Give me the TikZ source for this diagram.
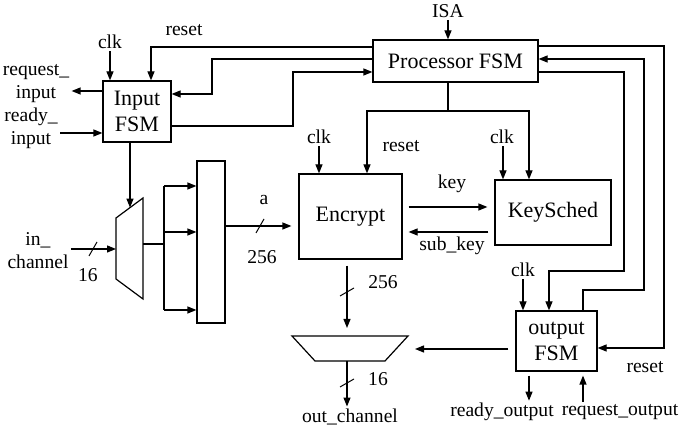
\documentclass[tikz,border=0pt]{standalone}
\usepackage{fontspec}
\setmainfont{Liberation Serif}
\usetikzlibrary{positioning,arrows.meta,calc}
\tikzset{
  bloque/.style={rectangle, draw, line width=0.6pt, inner sep=0pt,
    align=center, font=\fontsize{11}{13}\selectfont},
  etiqueta/.style={inner sep=1pt, align=center, font=\fontsize{9.8}{11.5}\selectfont},
  flechaSen/.style={-{Triangle[length=4.5pt,width=3.5pt]}, line width=0.6pt},
  cable/.style={-, line width=0.6pt},
  marcaBus/.style={-, line width=0.5pt},
}
\begin{document}
\begin{tikzpicture}[x=0.5pt, y=-0.5pt]
    \useasboundingbox (0,0) rectangle (682,431);
    \node[bloque, minimum width=82.5pt, minimum height=21pt] (proc) at (455.5,61) {Processor FSM};
    \node[bloque, minimum width=34pt, minimum height=30.5pt] (inf) at (137,111.5) {Input\\FSM};
    \node[bloque, minimum width=51.5pt, minimum height=42.5pt] (enc) at (350.5,216.5) {Encrypt};
    \node[bloque, minimum width=58pt, minimum height=32.5pt] (ks) at (553,212.5) {KeySched};
    \node[bloque, minimum width=40.5pt, minimum height=30pt] (outf) at (556.5,341) {output\\FSM};
    \node[bloque, minimum width=14pt, minimum height=81pt] (reg) at (211,242) {};
    \draw[cable] (116,218) -- (143,198) -- (143,299) -- (116,279) -- cycle;
    \coordinate (dmIn) at (116,249);
    \coordinate (dmSel) at (130,207.6);
    \coordinate (dmOut) at (143,244);
    \draw[cable] (292,336) -- (408,336) -- (385,361) -- (315,361) -- cycle;
    \coordinate (mxIn) at (347,336);
    \coordinate (mxSel) at (396,349);
    \coordinate (mxOut) at (347,361);
    \node[etiqueta] (isa) at (448,11) {ISA};
    \node[etiqueta] (clkIn) at (110,42) {clk};
    \node[etiqueta] (rstIn) at (184,30) {reset};
    \node[etiqueta] (reqIn) at (36,84) {request\_\\input};
    \node[etiqueta] (rdyIn) at (31,128) {ready\_\\input};
    \node[etiqueta] (inCh) at (38,251) {in\_\\channel};
    \node[etiqueta] (w16a) at (88,275) {16};
    \node[etiqueta] (la) at (264,200) {a};
    \node[etiqueta] (w256a) at (262,257) {256};
    \node[etiqueta] (clkEnc) at (319,137) {clk};
    \node[etiqueta] (rstEnc) at (401,146) {reset};
    \node[etiqueta] (clkKs) at (502,137) {clk};
    \node[etiqueta] (lkey) at (452,184) {key};
    \node[etiqueta] (lsub) at (452,246) {sub\_key};
    \node[etiqueta] (w256b) at (383,282) {256};
    \node[etiqueta] (w16b) at (378,379) {16};
    \node[etiqueta] (outCh) at (350,417) {out\_channel};
    \node[etiqueta] (clkOut) at (523,270) {clk};
    \node[etiqueta] (rstOut) at (645,367) {reset};
    \node[etiqueta] (rdyOut) at (502,412) {ready\_output};
    \node[etiqueta] (reqOut) at (620,412) {request\_output};
    \draw[flechaSen] (isa.south) -- (isa.south |- proc.north);
    \draw[flechaSen] (proc.west |- 0,47) -| (151,0 |- inf.north);
    \draw[flechaSen] (proc.west |- 0,59) -| (212,94) -- (inf.east |- 0,94);
    \draw[flechaSen] (inf.east |- 0,126) -| (293,72) -- (proc.west |- 0,72);
    \draw[flechaSen] (clkIn) -- (clkIn |- inf.north);
    \draw[flechaSen] (inf.west |- 0,91) -- (reqIn.east |- 0,91);
    \draw[flechaSen] (rdyIn.east |- 0,133) -- (inf.west |- 0,133);
    \draw[flechaSen] (inf.south -| dmSel) -- (dmSel);
    \draw[flechaSen] (inCh.east |- dmIn) -- (dmIn);
    \draw[marcaBus] (93,249) ++(-4,7) -- ++(8,-14);
    \draw[cable] (dmOut) -- (164,244);
    \draw[cable] (164,186) -- (164,310);
    \foreach \y in {186,232,310}{\draw[flechaSen] (164,\y) -- (reg.west |- 0,\y);}
    \draw[flechaSen, shorten >=3.5pt] (reg.east |- 0,226) -- (enc.west |- 0,226);
    \draw[marcaBus] (260,226) ++(-4,7) -- ++(8,-14);
    \draw[flechaSen] (clkEnc) -- (clkEnc |- enc.north);
    \draw[cable] (proc.south -| 448,0) -- (448,111) coordinate (rstSplit);
    \draw[flechaSen] (rstSplit) -| (enc.north -| 367,0);
    \draw[flechaSen] (rstSplit) -| (ks.north -| 529,0);
    \draw[flechaSen] (clkKs.south -| 503,0) -- (ks.north -| 503,0);
    \draw[flechaSen, shorten <=3pt, shorten >=3.5pt] (enc.east |- 0,207) -- (ks.west |- 0,207);
    \draw[flechaSen, shorten <=3pt, shorten >=3pt] (ks.west |- 0,232) -- (enc.east |- 0,232);
    \draw[flechaSen, shorten <=3pt, shorten >=4pt] (enc.south -| mxIn) -- (mxIn);
    \draw[marcaBus] (347,292) ++(-7,4) -- ++(14,-8);
    \draw[flechaSen] (mxOut) -- (outCh.north -| mxOut);
    \draw[marcaBus] (347,383) ++(-7,4) -- ++(14,-8);
    \draw[flechaSen, shorten <=3.5pt, shorten >=9.5pt] (outf.west |- mxSel) -- (mxSel);
    \draw[flechaSen] (clkOut) -- (clkOut |- outf.north);
    \draw[flechaSen] (proc.east |- 0,72) -| (624,271) -| (outf.north -| 549,0);
    \draw[flechaSen] (outf.north -| 583,0) |- (644,290) |- (proc.east |- 0,59);
    \draw[flechaSen] (proc.east |- 0,46) -| (664,348) -- (outf.east |- 0,348);
    \draw[flechaSen, shorten <=2pt] (outf.south -| 529,0) -- (rdyOut.north -| 529,0);
    \draw[flechaSen, shorten >=2pt] (reqOut.north -| 583,0) -- (outf.south -| 583,0);
\end{tikzpicture}
\end{document}
